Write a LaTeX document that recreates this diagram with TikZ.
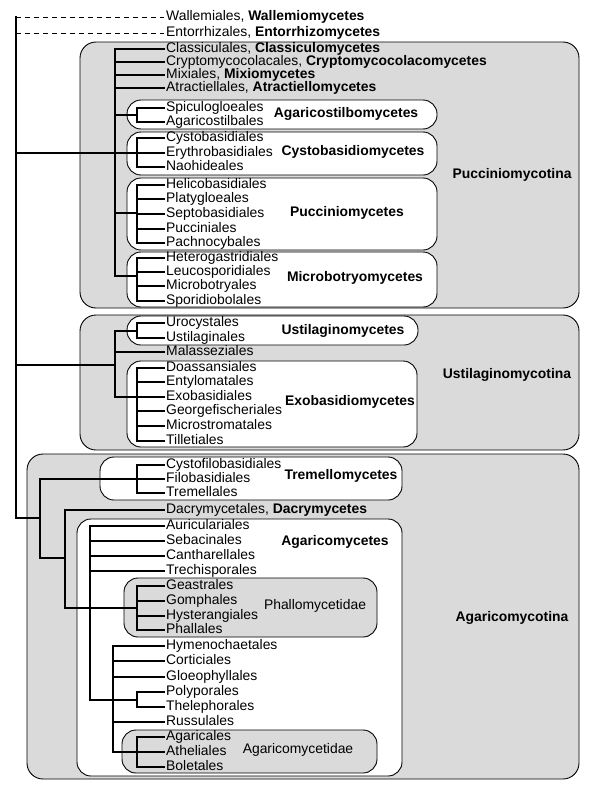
\documentclass[tikz,border=0pt]{standalone}
\usepackage{fontspec}
\setmainfont{Liberation Sans}
\definecolor{boxgray}{RGB}{218,218,218}
\tikzset{
  tree/.style={line width=1.1pt, line cap=rect},
  dashtree/.style={line width=0.8pt, dash pattern=on 5pt off 4pt},
  lbl/.style={anchor=west, inner xsep=2pt, inner ysep=0pt, text height=10pt, text depth=3pt, font=\fontsize{13.9}{15}\selectfont},
  grp/.style={inner sep=0pt, text height=10pt, text depth=3pt, font=\fontsize{13.9}{15}\selectfont\bfseries},
  sub/.style={inner sep=0pt, text height=10pt, text depth=3pt, font=\fontsize{13.9}{15}\selectfont},
  outerbox/.style={draw, line width=0.9pt, fill=boxgray, rounded corners=16pt},
  whitebox/.style={draw, line width=0.9pt, fill=white, rounded corners=14pt},
  graybox/.style={draw, line width=0.9pt, fill=boxgray, rounded corners=14pt}
}
\begin{document}
\begin{tikzpicture}[x=1pt, y=-1pt]
\useasboundingbox (0,0) rectangle (590,795);
\fill[white] (0,0) rectangle (590,795);

% ---------- boxes ----------
\draw[outerbox] (80,42) rectangle (579,308);
\draw[whitebox] (127,100) rectangle (437,129);
\draw[whitebox] (127,132) rectangle (437,175);
\draw[whitebox] (127,178) rectangle (437,250);
\draw[whitebox] (127,252) rectangle (437,307);

\draw[outerbox] (80,315) rectangle (579,450);
\draw[whitebox] (127,316) rectangle (418,345);
\draw[whitebox] (127,361) rectangle (417,447);

\draw[outerbox] (27,454) rectangle (579,779);
\draw[whitebox] (100,457) rectangle (402,500);
\draw[whitebox] (77,519) rectangle (402,776);
\draw[graybox] (124,578) rectangle (377,637);
\draw[graybox] (122,730) rectangle (377,773);

% ---------- leaf labels ----------
\node[lbl] (wal) at (164,17) {Wallemiales, \textbf{Wallemiomycetes}};
\node[lbl] (ent) at (164,33) {Entorrhizales, \textbf{Entorrhizomycetes}};
\node[lbl] (cla) at (164,49) {Classiculales, \textbf{Classiculomycetes}};
\node[lbl] (cry) at (164,62) {Cryptomycocolacales, \textbf{Cryptomycocolacomycetes}};
\node[lbl] (mix) at (164,75) {Mixiales, \textbf{Mixiomycetes}};
\node[lbl] (atr) at (164,88) {Atractiellales, \textbf{Atractiellomycetes}};
\node[lbl] (spi) at (164,108) {Spiculogloeales};
\node[lbl] (agc) at (164,122) {Agaricostilbales};
\node[lbl] (cys) at (164,138) {Cystobasidiales};
\node[lbl] (ery) at (164,153) {Erythrobasidiales};
\node[lbl] (nao) at (164,167) {Naohideales};
\node[lbl] (hel) at (164,185) {Helicobasidiales};
\node[lbl] (pla) at (164,199) {Platygloeales};
\node[lbl] (sep) at (164,214) {Septobasidiales};
\node[lbl] (puc) at (164,229) {Pucciniales};
\node[lbl] (pac) at (164,243) {Pachnocybales};
\node[lbl] (het) at (164,258) {Heterogastridiales};
\node[lbl] (leu) at (164,272) {Leucosporidiales};
\node[lbl] (mic) at (164,286) {Microbotryales};
\node[lbl] (spo) at (164,301) {Sporidiobolales};
\node[lbl] (uro) at (164,323) {Urocystales};
\node[lbl] (ust) at (164,338) {Ustilaginales};
\node[lbl] (mal) at (164,352) {Malasseziales};
\node[lbl] (doa) at (164,368) {Doassansiales};
\node[lbl] (ety) at (164,382) {Entylomatales};
\node[lbl] (exo) at (164,397) {Exobasidiales};
\node[lbl] (geo) at (164,411) {Georgefischeriales};
\node[lbl] (mcs) at (164,426) {Microstromatales};
\node[lbl] (til) at (164,441) {Tilletiales};
\node[lbl] (cyf) at (164,465) {Cystofilobasidiales};
\node[lbl] (fil) at (164,479) {Filobasidiales};
\node[lbl] (tre) at (164,493) {Tremellales};
\node[lbl] (dac) at (164,510) {Dacrymycetales, \textbf{Dacrymycetes}};
\node[lbl] (aur) at (164,526) {Auriculariales};
\node[lbl] (seb) at (164,541) {Sebacinales};
\node[lbl] (can) at (164,556) {Cantharellales};
\node[lbl] (trc) at (164,571) {Trechisporales};
\node[lbl] (gea) at (164,586) {Geastrales};
\node[lbl] (gom) at (164,601) {Gomphales};
\node[lbl] (hys) at (164,616) {Hysterangiales};
\node[lbl] (pha) at (164,630) {Phallales};
\node[lbl] (hym) at (164,646) {Hymenochaetales};
\node[lbl] (cor) at (164,661) {Corticiales};
\node[lbl] (glo) at (164,677) {Gloeophyllales};
\node[lbl] (pol) at (164,692) {Polyporales};
\node[lbl] (the) at (164,707) {Thelephorales};
\node[lbl] (rus) at (164,722) {Russulales};
\node[lbl] (agr) at (164,737) {Agaricales};
\node[lbl] (ath) at (164,752) {Atheliales};
\node[lbl] (bol) at (164,767) {Boletales};

% ---------- group labels ----------
\node[grp] (gPuc) at (512,175) {Pucciniomycotina};
\node[grp] (gUst) at (507,375) {Ustilaginomycotina};
\node[grp] (gAga) at (512,618) {Agaricomycotina};
\node[grp] (cAgs) at (346,114) {Agaricostilbomycetes};
\node[grp] (cCys) at (353,152) {Cystobasidiomycetes};
\node[grp] (cPuc) at (347,213) {Pucciniomycetes};
\node[grp] (cMic) at (355,278) {Microbotryomycetes};
\node[grp] (cUst) at (343,331) {Ustilaginomycetes};
\node[grp] (cExo) at (350,402) {Exobasidiomycetes};
\node[grp] (cTre) at (341,476) {Tremellomycetes};
\node[grp] (cAga) at (335,542) {Agaricomycetes};
\node[sub] (sPha) at (315,606) {Phallomycetidae};
\node[sub] (sAga) at (298,750) {Agaricomycetidae};

% ---------- junction coordinates ----------
\coordinate (r0) at (16,17);
\coordinate (r1) at (16,33);
\coordinate (r2) at (16,153);
\coordinate (r3) at (16,365);
\coordinate (r4) at (16,518);

% root
\draw[tree] (r0) -- (r4);
\draw[dashtree] (r0) -- (wal.west);
\draw[dashtree] (r1) -- (ent.west);

% Pucciniomycotina
\coordinate (p0) at (115,49);
\coordinate (p1) at (115,276);
\draw[tree] (r2) -- (115,153);
\draw[tree] (p0) -- (p1);
\foreach \n in {cla,cry,mix,atr} \draw[tree] (p0 |- \n.west) -- (\n.west);
% Agaricostilbomycetes
\draw[tree] (115,115) -- (137,115);
\draw[tree] (137,108) -- (137,122);
\foreach \n in {spi,agc} \draw[tree] (137,0 |- \n.west) -- (\n.west);
% Cystobasidiomycetes
\draw[tree] (115,153) -- (137,153);
\draw[tree] (137,138) -- (137,167);
\foreach \n in {cys,ery,nao} \draw[tree] (137,0 |- \n.west) -- (\n.west);
% Pucciniomycetes
\draw[tree] (115,213) -- (137,213);
\draw[tree] (137,185) -- (137,243);
\foreach \n in {hel,pla,sep,puc,pac} \draw[tree] (137,0 |- \n.west) -- (\n.west);
% Microbotryomycetes
\draw[tree] (p1) -- (137,276);
\draw[tree] (137,258) -- (137,301);
\foreach \n in {het,leu,mic,spo} \draw[tree] (137,0 |- \n.west) -- (\n.west);

% Ustilaginomycotina
\coordinate (u0) at (115,331);
\coordinate (u1) at (115,397);
\draw[tree] (r3) -- (115,365);
\draw[tree] (u0) -- (u1);
\draw[tree] (u0) -- (137,331);
\draw[tree] (137,323) -- (137,338);
\foreach \n in {uro,ust} \draw[tree] (137,0 |- \n.west) -- (\n.west);
\draw[tree] (115,0 |- mal.west) -- (mal.west);
\draw[tree] (u1) -- (137,397);
\draw[tree] (137,368) -- (137,441);
\foreach \n in {doa,ety,exo,geo,mcs,til} \draw[tree] (137,0 |- \n.west) -- (\n.west);

% Agaricomycotina
\draw[tree] (r4) -- (40,518);
\draw[tree] (40,479) -- (40,558);
\draw[tree] (40,479) -- (137,479);
\draw[tree] (137,465) -- (137,493);
\foreach \n in {cyf,fil,tre} \draw[tree] (137,0 |- \n.west) -- (\n.west);
\draw[tree] (40,558) -- (65,558);
\draw[tree] (65,510) -- (65,608);
\draw[tree] (65,0 |- dac.west) -- (dac.west);
\draw[tree] (65,608) -- (90,608);
\draw[tree] (90,526) -- (90,700);
\foreach \n in {aur,seb,can,trc} \draw[tree] (90,0 |- \n.west) -- (\n.west);
% Phallomycetidae
\draw[tree] (90,608) -- (137,608);
\draw[tree] (137,586) -- (137,630);
\foreach \n in {gea,gom,hys,pha} \draw[tree] (137,0 |- \n.west) -- (\n.west);
% lower clade
\draw[tree] (90,700) -- (137,700);
\draw[tree] (137,692) -- (137,707);
\foreach \n in {pol,the} \draw[tree] (137,0 |- \n.west) -- (\n.west);
\draw[tree] (113,646) -- (113,752);
\foreach \n in {hym,cor,glo,rus} \draw[tree] (113,0 |- \n.west) -- (\n.west);
\draw[tree] (113,752) -- (137,752);
\draw[tree] (137,737) -- (137,767);
\foreach \n in {agr,ath,bol} \draw[tree] (137,0 |- \n.west) -- (\n.west);
\end{tikzpicture}
\end{document}
